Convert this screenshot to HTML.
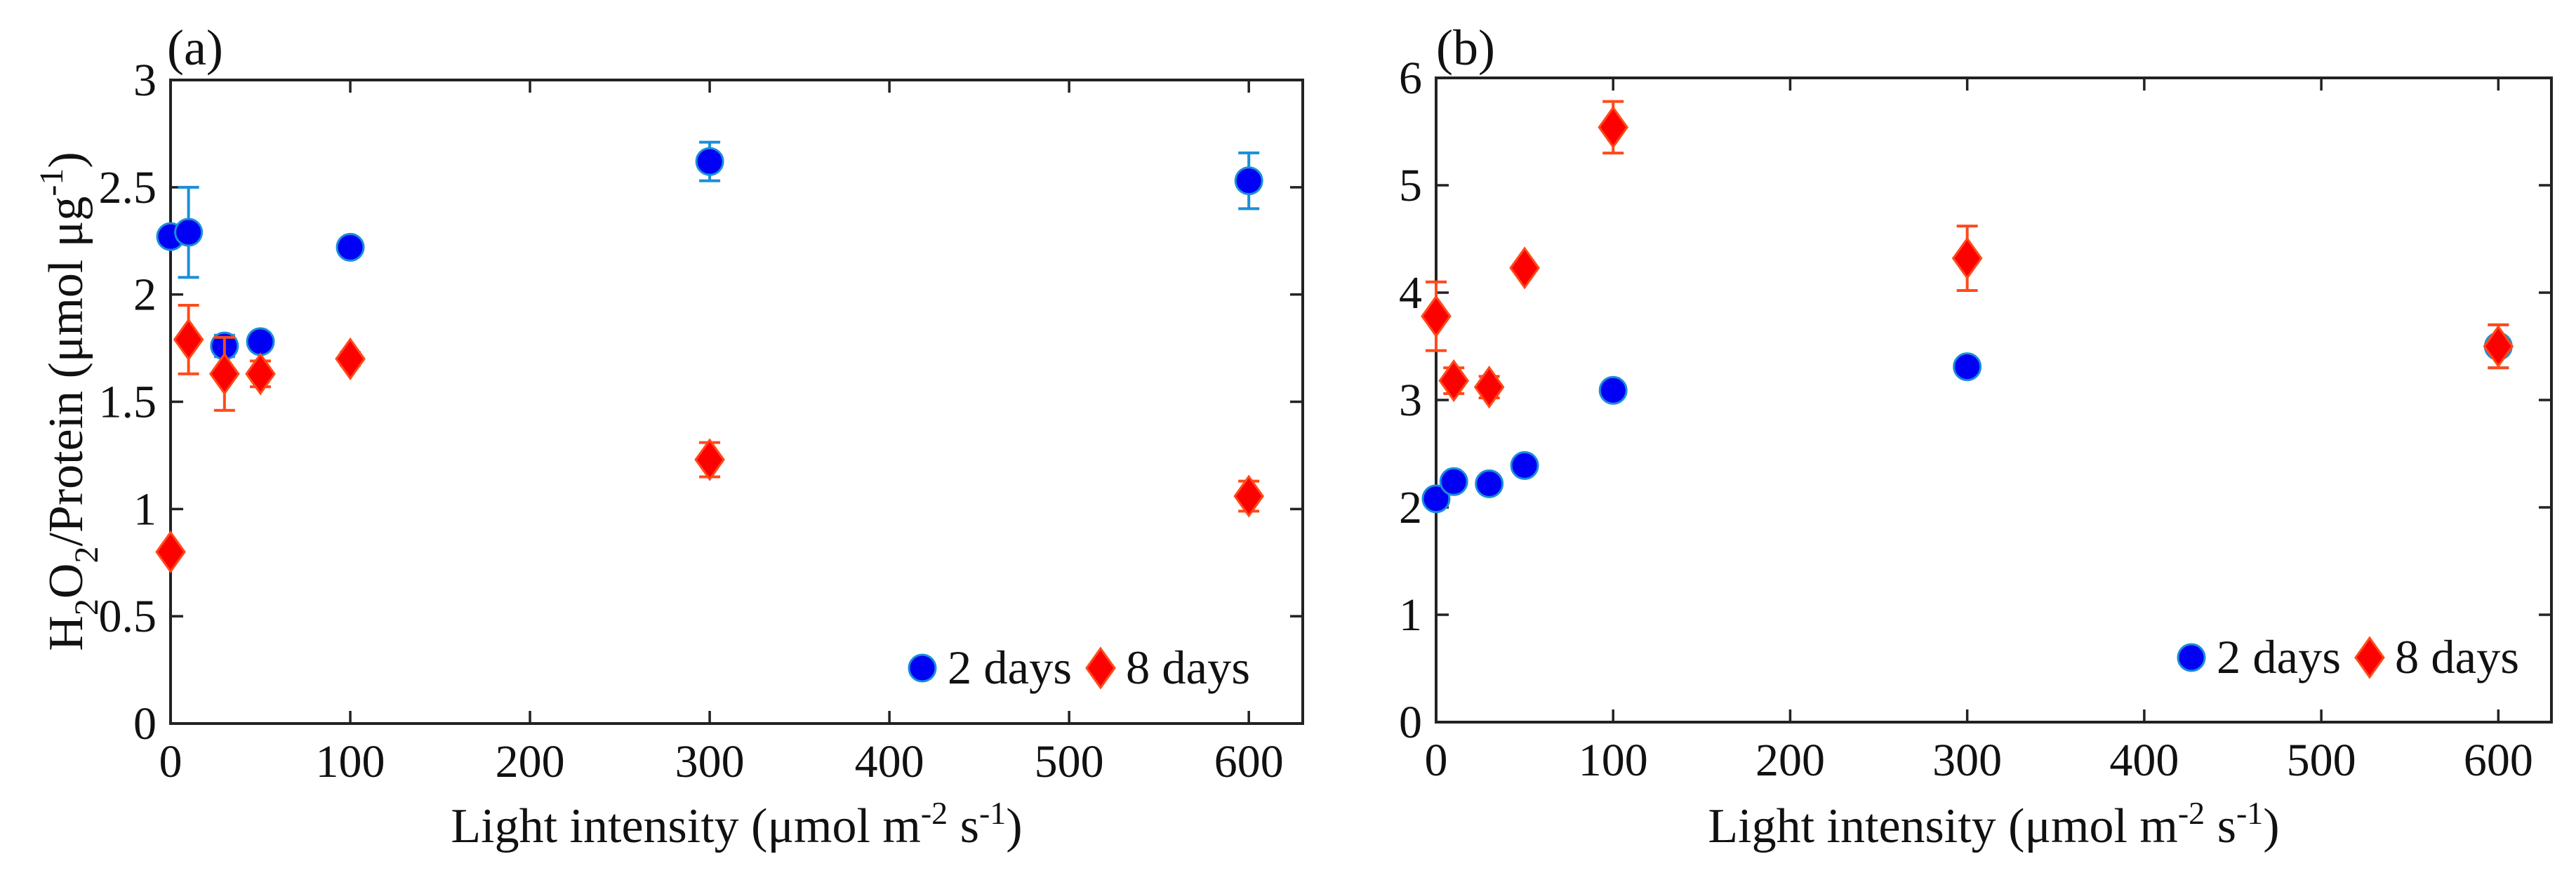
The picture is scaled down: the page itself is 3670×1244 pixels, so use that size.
<!DOCTYPE html>
<html><head><meta charset="utf-8">
<style>
html,body{margin:0;padding:0;background:#fff;}
svg{display:block;font-family:"Liberation Serif",serif;}
</style></head>
<body>
<svg id="chart" width="3670" height="1244" viewBox="0 0 3670 1244" xmlns="http://www.w3.org/2000/svg">
</svg>
<script>
// shared x data
const lightX = [0, 10, 30, 50, 100, 300, 600];
const xTicks = [0, 100, 200, 300, 400, 500, 600];
// panel a
const aDay2 = [2.27, 2.29, 1.76, 1.78, 2.22, 2.62, 2.53];
const aDay2Err = [0.0, 0.21, 0.05, 0.04, 0.02, 0.09, 0.13];
const aDay8 = [0.80, 1.79, 1.63, 1.63, 1.70, 1.23, 1.06];
const aDay8Err = [0.0, 0.16, 0.17, 0.06, 0.03, 0.08, 0.07];
const aYTicks = [0, 0.5, 1, 1.5, 2, 2.5, 3];
const aYTickLabels = ["0", "0.5", "1", "1.5", "2", "2.5", "3"];
// panel b
const bDay2 = [2.08, 2.24, 2.22, 2.39, 3.09, 3.31, 3.50];
const bDay2Err = [0.0, 0.0, 0.06, 0.0, 0.0, 0.0, 0.2];
const bDay8 = [3.78, 3.18, 3.12, 4.23, 5.54, 4.32, 3.50];
const bDay8Err = [0.32, 0.12, 0.10, 0.05, 0.24, 0.30, 0.2];
const bYTicks = [0, 1, 2, 3, 4, 5, 6];
const bYTickLabels = ["0", "1", "2", "3", "4", "5", "6"];

const NS = "http://www.w3.org/2000/svg";
const svg = document.getElementById('chart');
function mk(tag, attrs, parent) {
  const e = document.createElementNS(NS, tag);
  for (const k in attrs) e.setAttribute(k, attrs[k]);
  (parent || svg).appendChild(e);
  return e;
}
const BLUE_F = "#0000f5", BLUE_S = "#1a8fd8", RED_F = "#ff0000", RED_S = "#ff4a1a", AX = "#222";

function panel(cfg) {
  const g = mk('g', {});
  
  
  const L = cfg.left, R = cfg.right, T = cfg.top, B = cfg.bottom;
  const xs = v => L + (v - 0) / 630 * (R - L);
  const ys = v => B - (v - 0) / cfg.ymax * (B - T);
  xTicks.forEach((t, i) => {
    const x = xs(t);
    const tk = mk('path', {d: `M${x},${B}v-18M${x},${T}v18`, stroke: AX, 'stroke-width': 3.5}, g);
    
    
    const lb = mk('text', {x: x, y: B + 76, 'font-size': 66, 'text-anchor': 'middle', fill: '#111'}, g);
    
    
    lb.textContent = String(t);
  });
  cfg.yTicks.forEach((t, i) => {
    const y = ys(t);
    const tk = mk('path', {d: `M${L},${y}h18M${R},${y}h-18`, stroke: AX, 'stroke-width': 3.5}, g);
    
    
    const lb = mk('text', {x: L - 20, y: y + 22, 'font-size': 66, 'text-anchor': 'end', fill: '#111'}, g);
    
    
    lb.textContent = cfg.yLabels[i];
  });
  const frame = mk('rect', {x: L, y: T, width: R - L, height: B - T, fill: 'none', stroke: AX, 'stroke-width': 4}, g);
  
  

  function series(vals, errs, color, kind) {
    vals.forEach((v, i) => {
      const x = xs(lightX[i]), y = ys(v);
      if (errs[i] > 0) {
        const y1 = ys(v + errs[i]), y2 = ys(v - errs[i]);
        const eb = mk('path', {d: `M${x},${y1}V${y2}M${x - 15},${y1}h30M${x - 15},${y2}h30`, stroke: color, 'stroke-width': 4, fill: 'none'}, g);
        
        
      }
    });
    vals.forEach((v, i) => {
      const x = xs(lightX[i]), y = ys(v);
      let m;
      if (kind === 'circle') {
        m = mk('circle', {cx: x, cy: y, r: 19, fill: BLUE_F, stroke: BLUE_S, 'stroke-width': 3}, g);
        
      } else {
        m = mk('path', {d: `M${x},${y - 28}L${x + 20},${y}L${x},${y + 28}L${x - 20},${y}Z`, fill: RED_F, stroke: RED_S, 'stroke-width': 3}, g);
        
      }
      
    });
  }
  series(cfg.d2, cfg.d2e, BLUE_S, 'circle');
  series(cfg.d8, cfg.d8e, RED_S, 'diamond');

  const lg = mk('g', {}, g);
  
  
  const lx = cfg.legX, ly = cfg.legY;
  const c = mk('circle', {cx: lx, cy: ly, r: 19, fill: BLUE_F, stroke: BLUE_S, 'stroke-width': 3}, lg);
  
  
  const t1 = mk('text', {x: lx + 36, y: ly + 22, 'font-size': 68, fill: '#111', textLength: 177, lengthAdjust: 'spacingAndGlyphs'}, lg);
  
  
  t1.textContent = '2 days';
  const dx = lx + 254;
  const d = mk('path', {d: `M${dx},${ly - 28}L${dx + 20},${ly}L${dx},${ly + 28}L${dx - 20},${ly}Z`, fill: RED_F, stroke: RED_S, 'stroke-width': 3}, lg);
  
  
  const t2 = mk('text', {x: dx + 36, y: ly + 22, 'font-size': 68, fill: '#111', textLength: 177, lengthAdjust: 'spacingAndGlyphs'}, lg);
  
  
  t2.textContent = '8 days';

  const pl = mk('text', {x: cfg.labX, y: 92, 'font-size': 72, fill: '#111'}, g);
  
  
  pl.textContent = cfg.label;

  const xt = mk('text', {x: (L + R) / 2, y: 1200, 'font-size': 70, 'text-anchor': 'middle', fill: '#111'}, g);
  
  
  xt.innerHTML = 'Light intensity (μmol m<tspan dy="-26" font-size="46">-2</tspan><tspan dy="26"> s</tspan><tspan dy="-26" font-size="46">-1</tspan><tspan dy="26">)</tspan>';
}

panel({name: 'panel-a', left: 243, right: 1856, top: 114, bottom: 1031, ymax: 3,
  yTicks: aYTicks, yLabels: aYTickLabels, d2: aDay2, d2e: aDay2Err, d8: aDay8, d8e: aDay8Err,
  legX: 1314, legY: 952, labX: 238, label: '(a)'});
panel({name: 'panel-b', left: 2046, right: 3635, top: 111, bottom: 1029, ymax: 6,
  yTicks: bYTicks, yLabels: bYTickLabels, d2: bDay2, d2e: bDay2Err, d8: bDay8, d8e: bDay8Err,
  legX: 3122, legY: 937, labX: 2046, label: '(b)'});

const yt = mk('text', {transform: 'translate(117,572) rotate(-90)', 'font-size': 70, 'text-anchor': 'middle', fill: '#111'});


yt.innerHTML = 'H<tspan dy="22" font-size="48">2</tspan><tspan dy="-22">O</tspan><tspan dy="22" font-size="48">2</tspan><tspan dy="-22">/Protein (μmol μg</tspan><tspan dy="-28" font-size="48">-1</tspan><tspan dy="28">)</tspan>';
</script>
</body></html>
